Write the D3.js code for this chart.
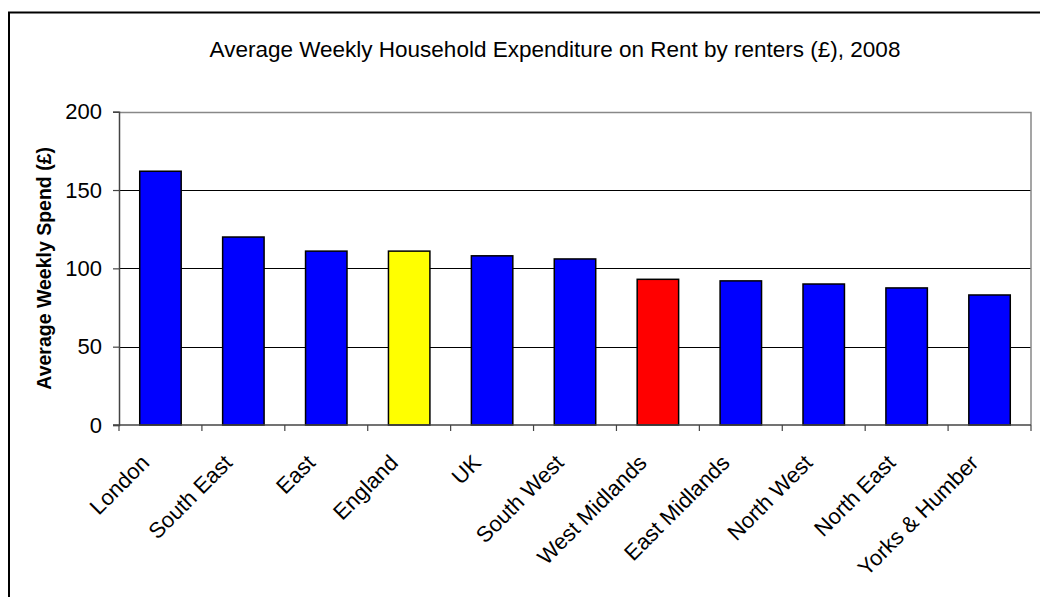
<!DOCTYPE html>
<html>
<head>
<meta charset="utf-8">
<script src="https://cdn.jsdelivr.net/npm/d3@7"></script>
<style>
  html, body { margin: 0; padding: 0; background: #fff; }
  svg { display: block; font-family: "Liberation Sans", Arial, sans-serif; }
</style>
</head>
<body>
<svg id="chart" width="1040" height="597"></svg>
<script>
const categories = ["London", "South East", "East", "England", "UK", "South West",
  "West Midlands", "East Midlands", "North West", "North East", "Yorks & Humber"];
const values = [162, 120, 111, 111, 108, 106, 93, 92, 90, 87.5, 83];
const barColors = ["#0000FF", "#0000FF", "#0000FF", "#FFFF00", "#0000FF", "#0000FF",
  "#FF0000", "#0000FF", "#0000FF", "#0000FF", "#0000FF"];
const yTicks = [0, 50, 100, 150, 200];
const titleText = "Average Weekly Household Expenditure on Rent by renters (£), 2008";
const yAxisTitle = "Average Weekly Spend (£)";

const svg = d3.select("#chart");
const pLeft = 119, pRight = 1031, pTop = 111.7, pBottom = 425;

// outer chart border
svg.append("rect").attr("x", 9).attr("y", 12.5).attr("width", 1100).attr("height", 700)
  .attr("fill", "none").attr("stroke", "#000").attr("stroke-width", 2);

const x = d3.scaleBand().domain(categories).range([pLeft, pRight]).paddingInner(0.5).paddingOuter(0.25);
const y = d3.scaleLinear().domain([0, 200]).range([pBottom, pTop]);

// gridlines
svg.append("g").selectAll("line").data(yTicks.filter(d => d > 0 && d < 200)).join("line")
  .attr("x1", pLeft).attr("x2", pRight)
  .attr("y1", d => Math.round(y(d)) + 0.5).attr("y2", d => Math.round(y(d)) + 0.5)
  .attr("stroke", "#000").attr("stroke-width", 1);

// plot border top/right
svg.append("path")
  .attr("d", `M${pLeft},${Math.round(pTop)+0.5}H${pRight}V${pBottom}`)
  .attr("fill", "none").attr("stroke", "#888").attr("stroke-width", 1.5);

// bars
svg.append("g").selectAll("rect").data(values).join("rect")
  .attr("x", (d, i) => x(categories[i]))
  .attr("width", x.bandwidth())
  .attr("y", d => y(d))
  .attr("height", d => pBottom - y(d))
  .attr("fill", (d, i) => barColors[i])
  .attr("stroke", "#000").attr("stroke-width", 1.5);

// y axis
const yAxis = d3.axisLeft(y).tickValues(yTicks).tickSize(6).tickPadding(11).tickFormat(d3.format("d"));
const gy = svg.append("g").attr("transform", `translate(${pLeft},0)`).call(yAxis);
gy.select(".domain").attr("stroke", "#444").attr("stroke-width", 1.5);
gy.selectAll(".tick line").attr("stroke", "#444").attr("stroke-width", 1.2);
gy.selectAll(".tick text").attr("font-size", 22).attr("fill", "#000")
  .attr("font-family", "'Liberation Sans', Arial, sans-serif");

// x axis: ticks at category boundaries
const boundaries = d3.range(categories.length + 1).map(i => pLeft + i * (pRight - pLeft) / categories.length);
svg.append("line").attr("x1", pLeft - 6).attr("x2", pRight).attr("y1", pBottom).attr("y2", pBottom)
  .attr("stroke", "#444").attr("stroke-width", 1.5);
svg.append("g").selectAll("line").data(boundaries).join("line")
  .attr("x1", d => d).attr("x2", d => d).attr("y1", pBottom).attr("y2", pBottom + 6)
  .attr("stroke", "#444").attr("stroke-width", 1.2);

// category labels rotated
svg.append("g").selectAll("text").data(categories).join("text")
  .attr("transform", d => `translate(${x(d) + x.bandwidth() / 2 - 21},${pBottom + 28}) rotate(-45)`)
  .attr("text-anchor", "end")
  .attr("dy", "0.72em")
  .attr("font-size", 22)
  .attr("fill", "#000")
  .text(d => d);

// title
svg.append("text").attr("x", 555).attr("y", 57).attr("text-anchor", "middle")
  .attr("font-size", 22.5).attr("fill", "#000").text(titleText);

// y axis title
svg.append("text").attr("transform", `translate(51,${(pTop + pBottom) / 2}) rotate(-90)`)
  .attr("text-anchor", "middle").attr("font-size", 19.5).attr("font-weight", "bold")
  .attr("fill", "#000").text(yAxisTitle);
</script>
</body>
</html>
